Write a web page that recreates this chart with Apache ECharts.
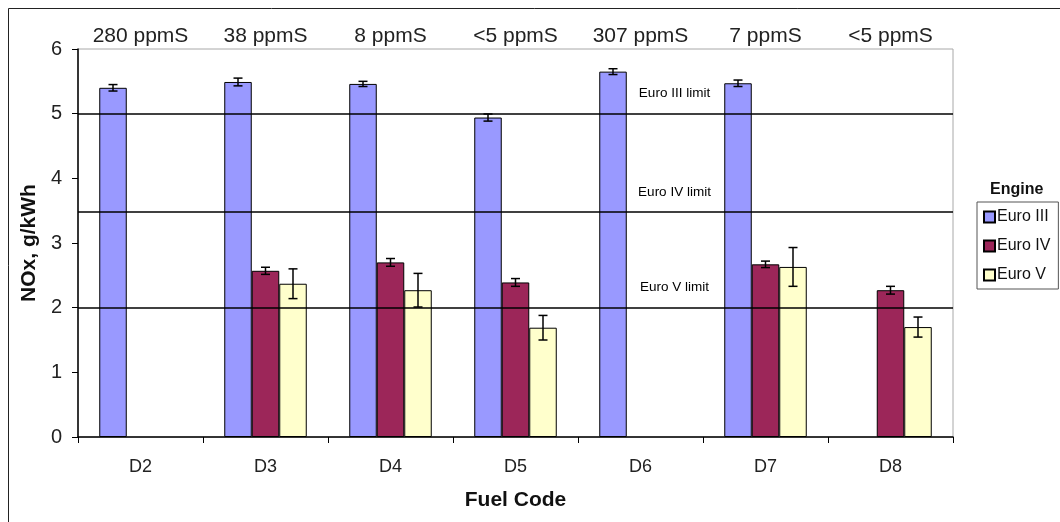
<!DOCTYPE html>
<html><head><meta charset="utf-8">
<script src="https://cdn.jsdelivr.net/npm/echarts@6/dist/echarts.min.js"></script>
<style>html,body{margin:0;padding:0;background:#fff}#c{width:1060px;height:522px}</style>
</head><body><div id="c"></div>
<script>
const categories = ['D2','D3','D4','D5','D6','D7','D8'];
const sulphur = ['280 ppmS','38 ppmS','8 ppmS','<5 ppmS','307 ppmS','7 ppmS','<5 ppmS'];
const seriesNames = ['Euro III','Euro IV','Euro V'];
const euro3 = [5.40, 5.49, 5.46, 4.94, 5.65, 5.47, null];
const euro4 = [null, 2.57, 2.70, 2.39, null, 2.67, 2.27];
const euro5 = [null, 2.37, 2.27, 1.69, null, 2.63, 1.70];
const euro3Err = [0.05, 0.06, 0.04, 0.055, 0.045, 0.05, null];
const euro4Err = [null, 0.055, 0.06, 0.06, null, 0.05, 0.06];
const euro5Err = [null, 0.23, 0.26, 0.19, null, 0.30, 0.155];
const limitValues = [5, 3.48, 2];
const limitNames = ['Euro III limit', 'Euro IV limit', 'Euro V limit'];
const yTicks = [0, 1, 2, 3, 4, 5, 6];

const colors = ['#9999FF', '#9c2659', '#FFFFCC'];
const values = [euro3, euro4, euro5];
const errs = [euro3Err, euro4Err, euro5Err];
const FONT = 'Liberation Sans, Arial, sans-serif';
const BAR_W = 27.5;

const chart = echarts.init(document.getElementById('c'), null, {renderer: 'canvas'});

const barSeries = seriesNames.map((n, i) => ({
  name: n, type: 'bar', data: values[i], barWidth: BAR_W, barGap: '0%',
  itemStyle: {color: colors[i], borderColor: '#000', borderWidth: 1},
  emphasis: {disabled: true}, z: 2
}));
barSeries[0].markLine = {
  silent: true, symbol: 'none', label: {show: false},
  lineStyle: {color: '#000', width: 1.5, type: 'solid'},
  data: limitValues.map(v => ({yAxis: v}))
};

const errSeries = seriesNames.map((n, i) => ({
  type: 'custom', z: 5, silent: true,
  data: categories.map((c, k) => [k, values[i][k], errs[i][k]]).filter(d => d[1] != null),
  renderItem: function (params, api) {
    const k = api.value(0), v = api.value(1), e = api.value(2);
    const top = api.coord([k, v + e]);
    const bot = api.coord([k, v - e]);
    const x = top[0] + (i - 1) * BAR_W;
    const cap = 4.5;
    const st = {stroke: '#000', lineWidth: 1.5};
    return {type: 'group', children: [
      {type: 'line', shape: {x1: x, y1: top[1], x2: x, y2: bot[1]}, style: st},
      {type: 'line', shape: {x1: x - cap, y1: top[1], x2: x + cap, y2: top[1]}, style: st},
      {type: 'line', shape: {x1: x - cap, y1: bot[1], x2: x + cap, y2: bot[1]}, style: st}
    ]};
  }
}));

chart.setOption({
  animation: false,
  backgroundColor: '#fff',
  title: {text: 'Engine', left: 985, top: 177,
    textStyle: {fontFamily: FONT, fontSize: 16, fontWeight: 'bold', color: '#111'}},
  legend: {
    orient: 'vertical', left: 977, top: 202, data: seriesNames,
    icon: 'rect', itemWidth: 11, itemHeight: 11, itemGap: 13,
    padding: [7, 8, 6, 6], borderColor: '#555', borderWidth: 1,
    textStyle: {fontFamily: FONT, fontSize: 16, color: '#111', padding: [0, 0, 0, -3]},
    selectedMode: false
  },
  grid: {left: 78, right: 107, top: 49, bottom: 85, show: true,
    borderColor: '#a8a8a8', borderWidth: 1, backgroundColor: 'transparent'},
  xAxis: [{
    type: 'category', data: categories, position: 'bottom',
    name: 'Fuel Code', nameLocation: 'middle', nameGap: 53,
    nameTextStyle: {fontFamily: FONT, fontSize: 21, fontWeight: 'bold', color: '#111'},
    axisLine: {lineStyle: {color: '#000', width: 1.5}},
    axisTick: {show: true, length: 6, lineStyle: {color: '#000'}},
    axisLabel: {fontFamily: FONT, fontSize: 18, color: '#222', margin: 21},
    splitLine: {show: false}
  }, {
    type: 'category', data: sulphur, position: 'top',
    axisLine: {show: false}, axisTick: {show: false},
    axisLabel: {fontFamily: FONT, fontSize: 21, color: '#222', margin: 2}
  }],
  yAxis: {
    type: 'value', min: yTicks[0], max: yTicks[yTicks.length - 1], interval: 1,
    name: 'NOx, g/kWh', nameLocation: 'middle', nameGap: 34, nameRotate: 90,
    nameTextStyle: {fontFamily: FONT, fontSize: 21, fontWeight: 'bold', color: '#111'},
    axisLine: {show: true, lineStyle: {color: '#000', width: 1.5}},
    axisTick: {show: true, length: 6, lineStyle: {color: '#000'}},
    axisLabel: {fontFamily: FONT, fontSize: 20, color: '#222', margin: 16},
    splitLine: {show: false}
  },
  series: barSeries.concat(errSeries)
});

const labelEls = limitValues.map((v, i) => {
  const p = chart.convertToPixel({xAxisIndex: 0, yAxisIndex: 0}, ['D6', v]);
  return {type: 'text', x: p[0] + 34, y: p[1] - 20,
    style: {text: limitNames[i], fontFamily: FONT, fontSize: 13.5, fill: '#000',
      align: 'center', verticalAlign: 'middle'}, z: 10};
});
labelEls.push({type: 'rect', shape: {x: 8.5, y: 8.5, width: 1200, height: 700},
  style: {fill: 'none', stroke: '#222', lineWidth: 1}, z: 0, silent: true});
chart.setOption({graphic: labelEls});
</script></body></html>
